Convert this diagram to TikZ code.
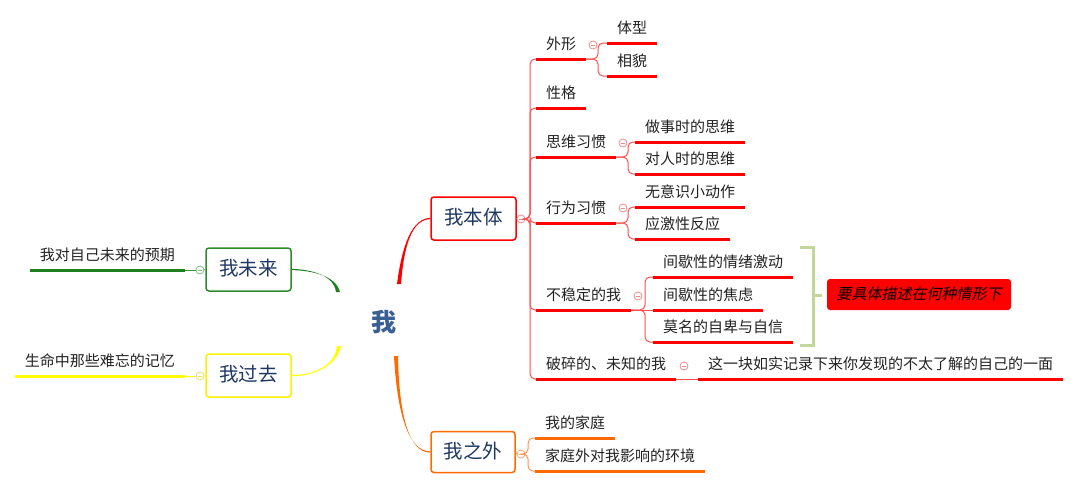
\documentclass[tikz,border=0pt]{standalone}
\usepackage{fontspec}
\setmainfont{Noto Sans CJK SC}
\newfontfamily\cjkit{Noto Sans CJK SC}[FakeSlant=0.2]
\usetikzlibrary{calc}
\definecolor{rline}{HTML}{FF0000}
\definecolor{rthin}{HTML}{FF5050}
\definecolor{rfold}{HTML}{F08A8A}
\definecolor{oline}{HTML}{FF6A00}
\definecolor{othin}{HTML}{FF9450}
\definecolor{ofold}{HTML}{F5A878}
\definecolor{gline}{HTML}{1E801E}
\definecolor{gbox}{HTML}{2E8B2E}
\definecolor{gthin}{HTML}{3C9A3C}
\definecolor{gfold}{HTML}{80BF80}
\definecolor{yline}{HTML}{FFFF00}
\definecolor{ybox}{HTML}{F8F200}
\definecolor{yfold}{HTML}{E6E060}
\definecolor{navy}{HTML}{1F3864}
\definecolor{mecol}{HTML}{3A5F93}
\definecolor{brk}{HTML}{C3D69B}
\definecolor{txt}{HTML}{222222}
\newcommand\taperbranch[6]{%
  \fill[#1] ($(#2)+(-#6,0)$) .. controls ($(#3)+(-#6/2,0)$) and ($(#4)+(0,-0.6)$) .. ($(#5)+(0,-0.6)$)
    -- ($(#5)+(0,0.6)$) .. controls ($(#4)+(0,0.6)$) and ($(#3)+(#6/2,0)$) .. ($(#2)+(#6,0)$) -- cycle;}
\tikzset{
  leaf/.style={inner xsep=10pt, inner ysep=0pt, minimum height=28pt, text height=12pt, text depth=2pt,
    font=\fontsize{15}{18}\selectfont, text=txt},
  uline/.style={line width=3pt, draw=#1},
  conn/.style={line width=1pt, draw=#1, rounded corners=5pt},
  topic/.style={draw=#1, rounded corners=3pt, line width=1.5pt, minimum width=85pt, minimum height=43pt,
    font=\fontsize{19.5}{22}\selectfont, text=navy, fill=white, text height=15pt, text depth=2.5pt, inner sep=0pt},
  fold/.style={circle, draw=#1, fill=white, minimum size=8pt, inner sep=0pt, line width=0.8pt,
    path picture={\draw[#1, line width=0.8pt] ([xshift=-2.2pt]path picture bounding box.center) -- ([xshift=2.2pt]path picture bounding box.center);}},
  brace/.style={draw=brk, line width=3pt},
  note/.style={fill=rline, rounded corners=3pt, minimum width=184pt, minimum height=31pt, inner sep=0pt,
    font=\cjkit\fontsize{15}{18}\selectfont, text=black, text height=12pt, text depth=2pt},
}
\begin{document}
\begin{tikzpicture}[x=1pt, y=-1pt]
\useasboundingbox (0,0) rectangle (1080,490);

% central topic
\node[font=\bfseries\fontsize{25}{28}\selectfont, text=mecol, inner sep=0pt] (me) at (384,322) {我};
\coordinate (rs) at (399,284);
\coordinate (os) at (396,356);
\coordinate (gs) at (338,292);
\coordinate (ys) at (339,346);

% main topics
\node[topic=gbox] (weilai) at (248.5,269.5) {我未来};
\node[topic=ybox] (guoqu) at (248.5,375.5) {我过去};
\node[topic=rline] (benti) at (473.5,218.5) {我本体};
\node[topic=oline, minimum width=84pt, minimum height=41pt] (zhiwai) at (473,452) {我之外};

% main branches (tapered)
\coordinate (rc1) at (403,245); \coordinate (rc2) at (412,219);
\coordinate (oc1) at (398,412); \coordinate (oc2) at (408,452);
\coordinate (gc1) at (335,276); \coordinate (gc2) at (313,270);
\coordinate (yc1) at (336,366); \coordinate (yc2) at (313,376);
\taperbranch{rline}{rs}{rc1}{rc2}{benti.west}{2}
\taperbranch{oline}{os}{oc1}{oc2}{zhiwai.west}{2}
\taperbranch{gline}{gs}{gc1}{gc2}{weilai.east}{2}
\taperbranch{yline}{ys}{yc1}{yc2}{guoqu.east}{2}

% leaves
\node[leaf, anchor=south east] (yuqi) at (185,270) {我对自己未来的预期};
\node[leaf, anchor=south east] (jiyi) at (185,376) {生命中那些难忘的记忆};
\node[leaf, anchor=south west] (waixing) at (536,59) {外形};
\node[leaf, anchor=south west] (xingge) at (536,108) {性格};
\node[leaf, anchor=south west] (siwei) at (536,157) {思维习惯};
\node[leaf, anchor=south west] (xingwei) at (536,223) {行为习惯};
\node[leaf, anchor=south west] (bwd) at (536,310) {不稳定的我};
\node[leaf, anchor=south west] (posui) at (536,379) {破碎的、未知的我};
\node[leaf, anchor=south west] (tixing) at (607,43) {体型};
\node[leaf, anchor=south west] (xiangmao) at (607,76) {相貌};
\node[leaf, anchor=south west] (zuoshi) at (635,142) {做事时的思维};
\node[leaf, anchor=south west] (duiren) at (635,174) {对人时的思维};
\node[leaf, anchor=south west] (wuyishi) at (635,207) {无意识小动作};
\node[leaf, anchor=south west] (yingji) at (635,239) {应激性反应};
\node[leaf, anchor=south west] (jxa) at (653,277) {间歇性的情绪激动};
\node[leaf, anchor=south west] (jxb) at (653,310) {间歇性的焦虑};
\node[leaf, anchor=south west] (moming) at (653,342) {莫名的自卑与自信};
\node[leaf, anchor=south west] (zhe) at (698,379) {这一块如实记录下来你发现的不太了解的自己的一面};
\node[leaf, anchor=south west] (jiating) at (535,438) {我的家庭};
\node[leaf, anchor=south west] (jtw) at (535,471) {家庭外对我影响的环境};

% fold markers
\node[fold=rfold] (cb) at (521,219) {};
\node[fold=ofold] (cz) at (521,454) {};
\node[fold=gfold] (cf) at (200,270) {};
\node[fold=yfold] (cp) at (200,376) {};
\node[fold=rfold] (fw) at (593,45) {};
\node[fold=rfold] (fs) at (623,143) {};
\node[fold=rfold] (fx) at (623,208) {};
\node[fold=rfold] (fb) at (638,296) {};
\node[fold=rfold] (fp) at (684,366) {};

% junctions
\coordinate (jb) at (530,219);
\coordinate (jw) at (598,59);
\coordinate (js) at (628,157);
\coordinate (jx) at (628,223);
\coordinate (jbw) at (645,310);
\coordinate (jz) at (528,454);

% thin connectors
\draw[conn=gthin] (weilai.west) -- (cf.east);
\draw[conn=gthin] (cf.west) -- (yuqi.south east);
\draw[conn=yline] (guoqu.west) -- (cp.east);
\draw[conn=yline] (cp.west) -- (jiyi.south east);
\draw[conn=rthin] (benti.east) -- (cb.west);
\foreach \c in {waixing,xingge,siwei,xingwei,bwd,posui}
  \draw[conn=rthin] (cb.east) -- (jb) |- ($(\c.south west)+(10,0)$);
\foreach \c in {tixing,xiangmao}
  \draw[conn=rthin] (waixing.south east) -- (jw) |- ($(\c.south west)+(8,0)$);
\foreach \c in {zuoshi,duiren}
  \draw[conn=rthin] (siwei.south east) -- (js) |- ($(\c.south west)+(8,0)$);
\foreach \c in {wuyishi,yingji}
  \draw[conn=rthin] (xingwei.south east) -- (jx) |- ($(\c.south west)+(8,0)$);
\foreach \c in {jxa,moming}
  \draw[conn=rthin] (bwd.south east) -- (jbw) |- ($(\c.south west)+(8,0)$);
\draw[conn=rthin] (bwd.south east) -- (jxb.south west);
\draw[conn=rthin] (posui.south east) -- (zhe.south west);
\draw[conn=othin] (zhiwai.east) -- (cz.west);
\foreach \c in {jiating,jtw}
  \draw[conn=othin] (cz.east) -- (jz) |- ($(\c.south west)+(8,0)$);

% underlines
\draw[uline=gline] (yuqi.south west) -- (yuqi.south east);
\draw[uline=yline] (jiyi.south west) -- (jiyi.south east);
\foreach \n in {waixing,xingge,siwei,xingwei,bwd,posui,tixing,xiangmao,zuoshi,duiren,wuyishi,yingji,jxa,jxb,moming,zhe}
  \draw[uline=rline] (\n.south west) -- (\n.south east);
\foreach \n in {jiating,jtw}
  \draw[uline=oline] (\n.south west) -- (\n.south east);

% summary brace and note
\coordinate (bt) at (800,247);
\coordinate (bb) at (800,345);
\coordinate (bm) at (813,295);
\coordinate (btip) at (822,295);
\draw[brace] (bt) -| (bm) |- (bb);
\draw[brace] (bm) -- (btip);
\node[note] (nt) at (919,294.5) {要具体描述在何种情形下};
\end{tikzpicture}
\end{document}
